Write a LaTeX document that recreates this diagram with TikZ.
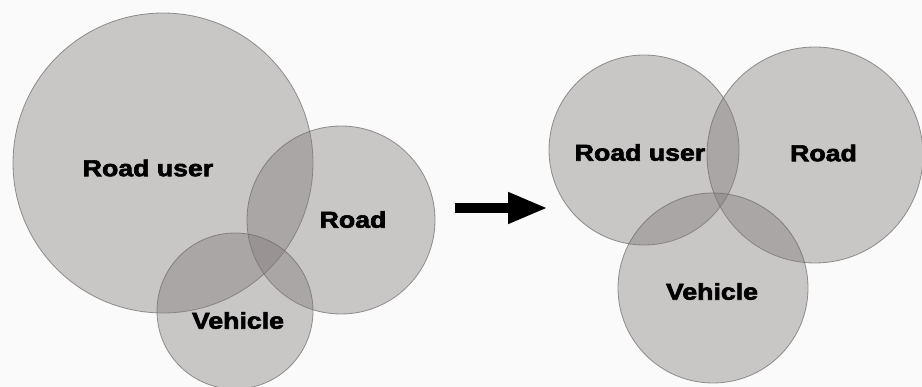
\documentclass[tikz,border=0pt]{standalone}
\usepackage{fontspec}
\setmainfont{Liberation Sans}[BoldFeatures={FakeBold=2.5}]
\usetikzlibrary{arrows.meta}
\definecolor{circfill}{RGB}{128,120,120}
\definecolor{circline}{RGB}{110,105,105}
\definecolor{bgwhite}{RGB}{250,250,250}
\tikzset{
  venn/.style={circle, draw=circline, line width=0.8pt, fill=circfill,
    fill opacity=0.4, draw opacity=0.7, inner sep=0pt, outer sep=0pt},
  lbl/.style={font=\fontsize{23}{23}\selectfont\bfseries, text=black, inner sep=0pt},
  bigarrow/.style={line width=10pt, -{Triangle[length=40pt,width=29pt]}}
}
\newcommand{\widelbl}[1]{\scalebox{1.16}[1]{#1}}
\begin{document}
\begin{tikzpicture}[x=1pt,y=-1pt]
\fill[bgwhite] (0,0) rectangle (922,387);
\useasboundingbox (0,0) rectangle (922,387);
\begin{scope}
\clip (0,0) rectangle (922,387);
% left group
\node[venn, minimum size=300pt] (ruL) at (163,163) {};
\node[venn, minimum size=188pt] (rdL) at (341,220) {};
\node[venn, minimum size=156pt] (vhL) at (235,311) {};
% right group
\node[venn, minimum size=190pt] (ruR) at (644,150) {};
\node[venn, minimum size=216pt] (rdR) at (815,155) {};
\node[venn, minimum size=190pt] (vhR) at (713,288) {};
\end{scope}
% labels
\node[lbl] (tRuL) at (148,168) {\widelbl{Road user}};
\node[lbl] (tRdL) at (353,219.5) {\widelbl{Road}};
\node[lbl] (tVhL) at (238,320.5) {\widelbl{Vehicle}};
\node[lbl] (tRuR) at (640,152.5) {\widelbl{Road user}};
\node[lbl] (tRdR) at (823.5,153) {\widelbl{Road}};
\node[lbl] (tVhR) at (712,291.5) {\widelbl{Vehicle}};
% arrow
\coordinate (a0) at (455,208);
\coordinate (a1) at (548,208);
\draw[bigarrow] (a0) -- (a1);
\end{tikzpicture}
\end{document}
